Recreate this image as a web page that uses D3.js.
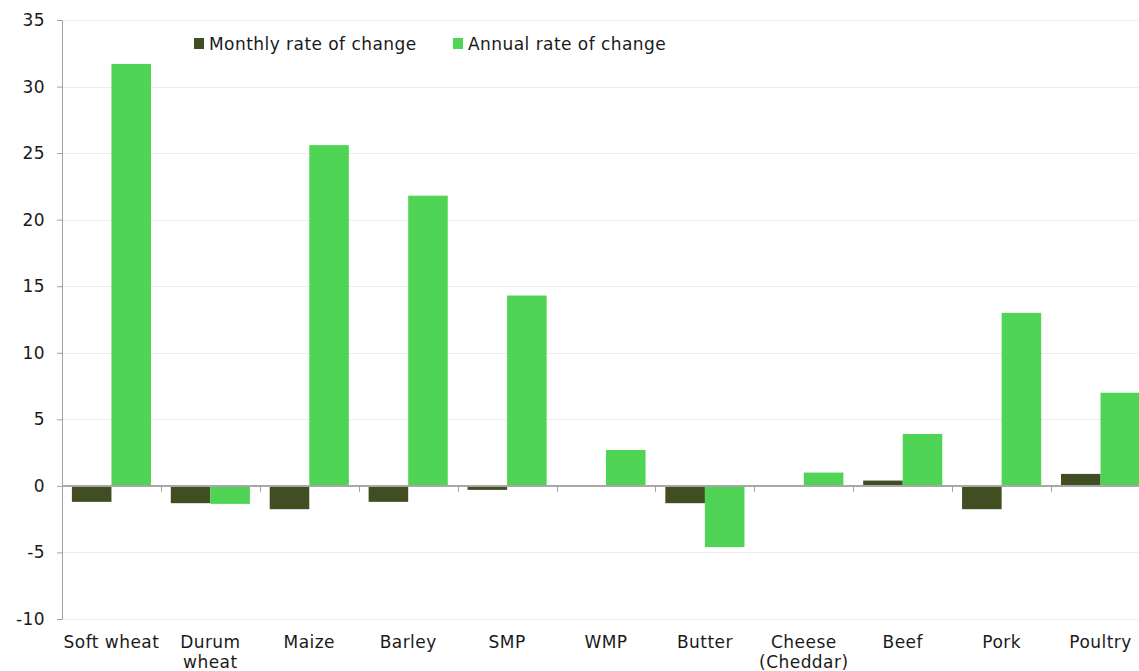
<!DOCTYPE html>
<html lang="en">
<head>
    <meta charset="UTF-8">
    <title>Rates of change</title>
    <script src="https://cdn.jsdelivr.net/npm/d3@7"></script>
    <style>
        body { margin: 0; background: #fff; }
        svg text { font-family: "DejaVu Sans", Verdana, sans-serif; fill: #1a1a1a; letter-spacing: 0.45px; }
    </style>
</head>
<body>
    <div id="chart"></div>
    <script>
        // data
        var categories = ["Soft wheat", "Durum wheat", "Maize", "Barley", "SMP", "WMP", "Butter", "Cheese (Cheddar)", "Beef", "Pork", "Poultry"];
        var monthly = [-1.2, -1.3, -1.75, -1.2, -0.3, -0.05, -1.3, -0.08, 0.4, -1.75, 0.9];
        var annual = [31.7, -1.35, 25.6, 21.8, 14.3, 2.7, -4.6, 1.0, 3.9, 13.0, 7.0];
        var seriesNames = ["Monthly rate of change", "Annual rate of change"];
        var colors = ["#404e22", "#50d455"];
        var yTicks = [-10, -5, 0, 5, 10, 15, 20, 25, 30, 35];

        var w = 1139, h = 671;
        var plotLeft = 62, plotTop = 20, plotRight = 1150, plotBottom = 619;

        var svg = d3.select("#chart").append("svg")
            .attr("width", w)
            .attr("height", h);

        var y = d3.scaleLinear().domain([-10, 35]).range([plotBottom, plotTop]);
        var x = d3.scaleBand().domain(categories).range([plotLeft, plotRight]).paddingInner(0.2).paddingOuter(0.1);
        var x1 = d3.scaleBand().domain([0, 1]).range([0, x.bandwidth()]);

        // gridlines
        svg.append("g").selectAll("line")
            .data(yTicks)
            .enter().append("line")
            .attr("x1", plotLeft).attr("x2", w)
            .attr("y1", function(d) { return Math.round(y(d)) + 0.5; })
            .attr("y2", function(d) { return Math.round(y(d)) + 0.5; })
            .attr("stroke", "#ececec");

        // bars
        var rows = categories.map(function(c, i) { return { cat: c, vals: [monthly[i], annual[i]] }; });
        var groups = svg.append("g").selectAll("g")
            .data(rows)
            .enter().append("g")
            .attr("transform", function(d) { return "translate(" + x(d.cat) + ",0)"; });
        groups.selectAll("rect")
            .data(function(d) { return d.vals; })
            .enter().append("rect")
            .attr("x", function(d, i) { return x1(i); })
            .attr("width", x1.bandwidth())
            .attr("y", function(d) { return y(Math.max(0, d)); })
            .attr("height", function(d) { return Math.max(1, Math.abs(y(d) - y(0))); })
            .attr("fill", function(d, i) { return colors[i]; });

        // y axis (plain hyphen for negatives)
        var yAxis = svg.append("g")
            .attr("transform", "translate(" + plotLeft + ",0)")
            .call(d3.axisLeft(y).tickValues(yTicks).tickSize(5).tickPadding(12)
                .tickFormat(function(d) { return String(d); }));
        yAxis.select(".domain").attr("stroke", "#a0a0a0");
        yAxis.selectAll(".tick line").attr("stroke", "#a0a0a0");
        yAxis.selectAll("text").attr("font-size", "17px").attr("fill", "#1a1a1a")
            .style("font-family", "'DejaVu Sans', Verdana, sans-serif");

        // zero line with category ticks
        var step = x.step();
        var bounds = d3.range(categories.length + 1).map(function(i) { return plotLeft + i * step; });
        svg.append("line")
            .attr("x1", plotLeft).attr("x2", w)
            .attr("y1", y(0)).attr("y2", y(0))
            .attr("stroke", "#a8a8a8").attr("stroke-width", 2);
        svg.append("g").selectAll("line")
            .data(bounds.slice(1))
            .enter().append("line")
            .attr("x1", function(d) { return Math.round(d) + 0.5; })
            .attr("x2", function(d) { return Math.round(d) + 0.5; })
            .attr("y1", y(0)).attr("y2", y(0) + 6)
            .attr("stroke", "#a0a0a0");

        // category labels
        var labels = svg.append("g").selectAll("text")
            .data(categories)
            .enter().append("text")
            .attr("x", function(d) { return x(d) + x.bandwidth() / 2; })
            .attr("y", 648)
            .attr("text-anchor", "middle")
            .attr("font-size", "17px");
        labels.each(function(d) {
            var parts = d.length > 10 && d.indexOf(" ") > 0 ? d.split(" ") : [d];
            var t = d3.select(this);
            parts.forEach(function(p, j) {
                t.append("tspan")
                    .attr("x", t.attr("x"))
                    .attr("dy", j === 0 ? 0 : 20)
                    .text(p);
            });
        });

        // legend
        var legendX = [194, 453];
        var legend = svg.append("g").selectAll("g")
            .data(seriesNames)
            .enter().append("g")
            .attr("transform", function(d, i) { return "translate(" + legendX[i] + ",38)"; });
        legend.append("rect")
            .attr("width", 10).attr("height", 11)
            .attr("fill", function(d, i) { return colors[i]; });
        legend.append("text")
            .attr("x", 15).attr("y", 11.5)
            .attr("font-size", "17px")
            .text(function(d) { return d; });
    </script>
</body>
</html>
